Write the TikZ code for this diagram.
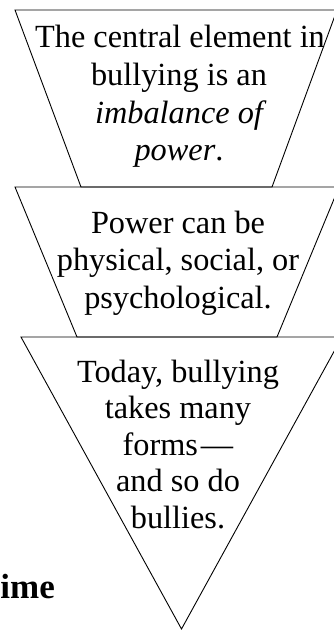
\documentclass[tikz,border=0pt]{standalone}
\usepackage{fontspec}
\setmainfont{Liberation Serif}
\begin{document}
\begin{tikzpicture}[x=1pt,y=-1pt,
  panel/.style={draw=black, line width=0.9pt, line join=miter},
  txt/.style={anchor=base, inner sep=0pt, font=\fontsize{32.3}{37.5}\selectfont},
  lbl/.style={anchor=base east, inner sep=0pt, font=\fontsize{35}{40}\selectfont\bfseries}]
\useasboundingbox (0,0) rectangle (334,630);
\clip (0,0) rectangle (334,630);
% shapes
\draw[panel] (15,10) -- (337,10) -- (272,187) -- (81,187) -- cycle;
\draw[panel] (15,187) -- (339,187) -- (277,337) -- (77,337) -- cycle;
\draw[panel] (21,337) -- (342,337) -- (181.5,629) -- cycle;
% level 1
\node[txt] (a1) at (180,47) {The central element in};
\node[txt] (a2) at (179,85) {bullying is an};
\node[txt] (a3) at (179,123) {\itshape imbalance of};
\node[txt] (a4) at (179,160) {{\itshape power}.};
% level 2
\node[txt] (b1) at (178,233) {Power can be};
\node[txt] (b2) at (178,270.5) {physical, social, or};
\node[txt] (b3) at (178,308) {psychological.};
% level 3
\node[txt] (c1) at (178,382) {Today, bullying};
\node[txt] (c2) at (178,418.5) {takes many};
\node[txt] (c3) at (178,455) {forms\kern3pt—};
\node[txt] (c4) at (178,491.5) {and so do};
\node[txt] (c5) at (178,528) {bullies.};
% clipped label
\node[lbl] (t) at (55,598) {ime};
\end{tikzpicture}
\end{document}
